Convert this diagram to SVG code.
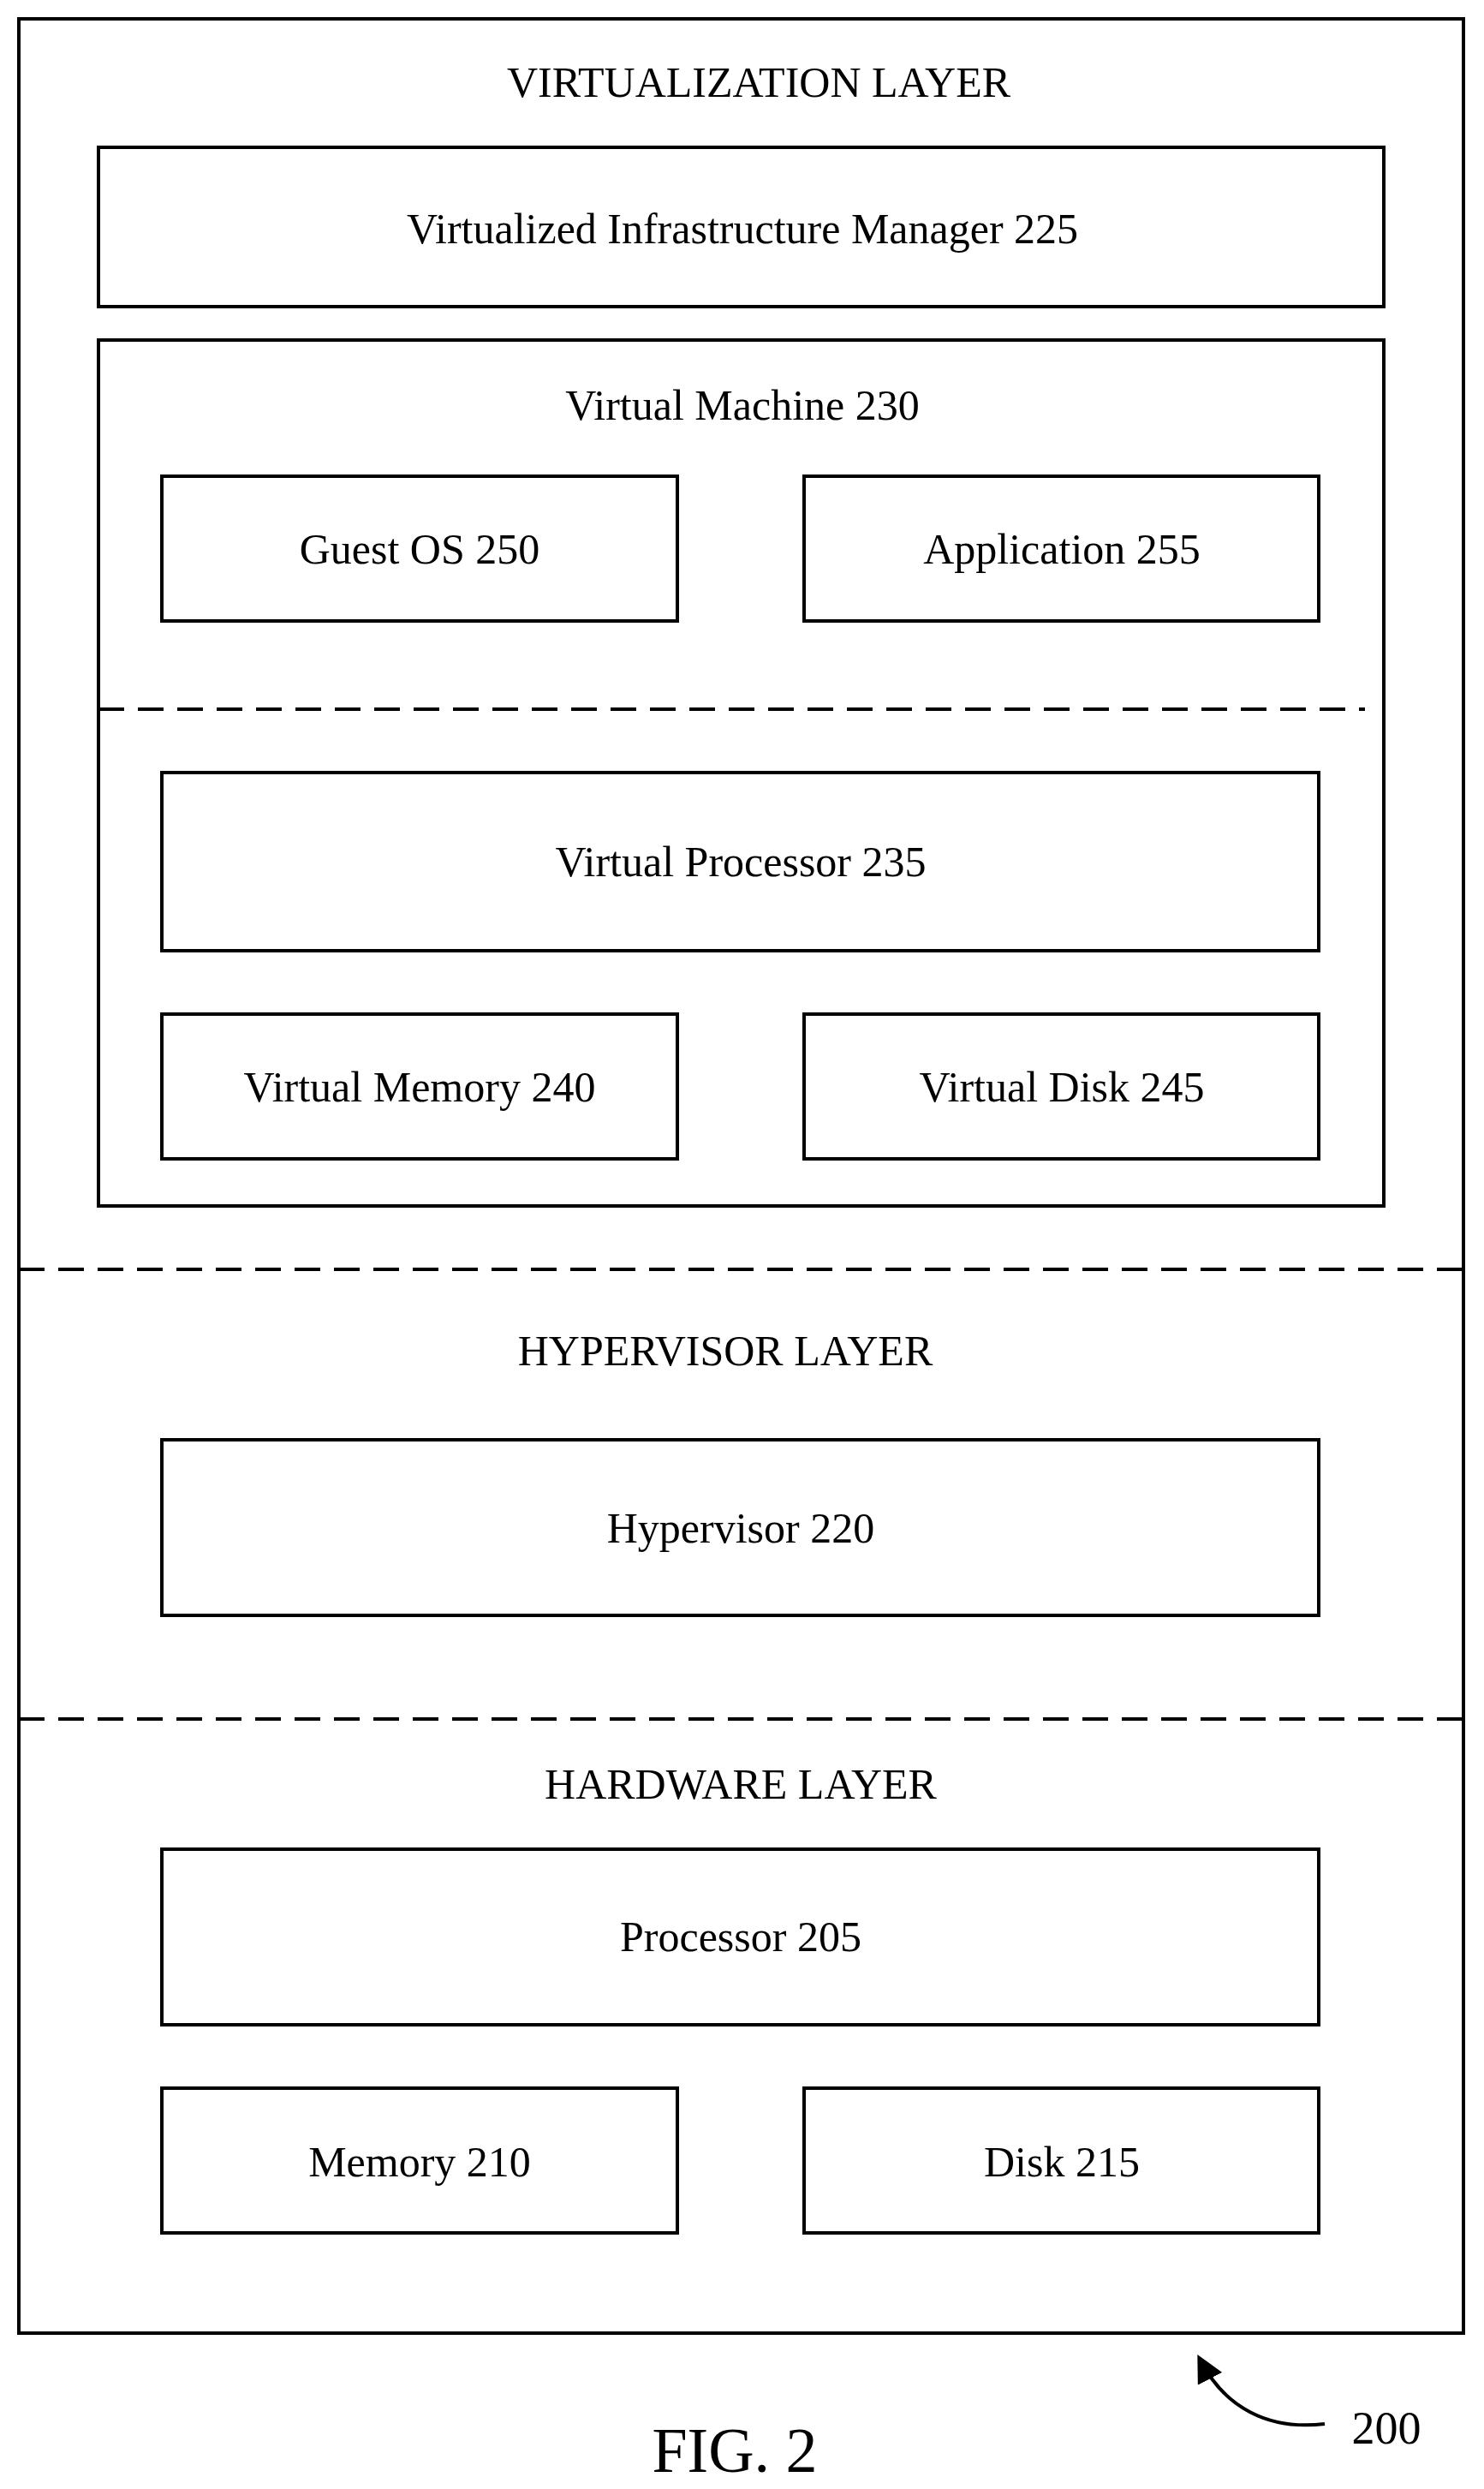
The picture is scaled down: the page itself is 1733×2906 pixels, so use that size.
<svg xmlns="http://www.w3.org/2000/svg" width="1733" height="2906" viewBox="0 0 1733 2906">
<style>
.b{fill:none;stroke:#000;stroke-width:4}
.d{fill:none;stroke:#000;stroke-width:4;stroke-dasharray:30,16}
text{font-family:"Liberation Serif",serif;font-size:50px;text-anchor:middle;fill:#000}
</style>
<defs><marker id="a" markerWidth="8" markerHeight="8" refX="6" refY="4" orient="auto" markerUnits="strokeWidth"><path d="M0,0L8,4L0,8z" fill="#000"/></marker></defs>
<rect width="1733" height="2906" fill="#fff"/>
<g id="outer"><rect class="b" x="22" y="22" width="1687" height="2702"/><text x="886" y="113">VIRTUALIZATION LAYER</text></g>
<g id="vim"><rect class="b" x="115" y="172" width="1501" height="186"/><text x="867" y="284">Virtualized Infrastructure Manager 225</text></g>
<g id="vm"><rect class="b" x="115" y="397" width="1501" height="1011"/><text x="867" y="490">Virtual Machine 230</text></g>
<g id="guestos"><rect class="b" x="189" y="556" width="602" height="169"/><text x="490" y="658">Guest OS 250</text></g>
<g id="app"><rect class="b" x="939" y="556" width="601" height="169"/><text x="1240" y="658">Application 255</text></g>
<g id="vproc"><rect class="b" x="189" y="902" width="1351" height="208"/><text x="865" y="1023">Virtual Processor 235</text></g>
<g id="vmem"><rect class="b" x="189" y="1184" width="602" height="169"/><text x="490" y="1286">Virtual Memory 240</text></g>
<g id="vdisk"><rect class="b" x="939" y="1184" width="601" height="169"/><text x="1240" y="1286">Virtual Disk 245</text></g>
<g id="hvlayer"><text x="847" y="1594">HYPERVISOR LAYER</text></g>
<g id="hv"><rect class="b" x="189" y="1681" width="1351" height="205"/><text x="865" y="1801">Hypervisor 220</text></g>
<g id="hwlayer"><text x="865" y="2100">HARDWARE LAYER</text></g>
<g id="proc"><rect class="b" x="189" y="2159" width="1351" height="205"/><text x="865" y="2278">Processor 205</text></g>
<g id="mem"><rect class="b" x="189" y="2438" width="602" height="169"/><text x="490" y="2541">Memory 210</text></g>
<g id="disk"><rect class="b" x="939" y="2438" width="601" height="169"/><text x="1240" y="2541">Disk 215</text></g>
<g id="connectors">
<line class="d" x1="115" y1="828" x2="1594" y2="828"/>
<line class="d" x1="22" y1="1482" x2="1709" y2="1482"/>
<line class="d" x1="22" y1="2007" x2="1709" y2="2007"/>
<path class="b" d="M1547,2830 C1480,2838 1430,2810 1402,2756" marker-end="url(#a)" stroke-width="3"/>
</g>
<text x="1619" y="2853" style="font-size:54px">200</text>
<text x="858" y="2886" style="font-size:74px">FIG. 2</text>
</svg>
